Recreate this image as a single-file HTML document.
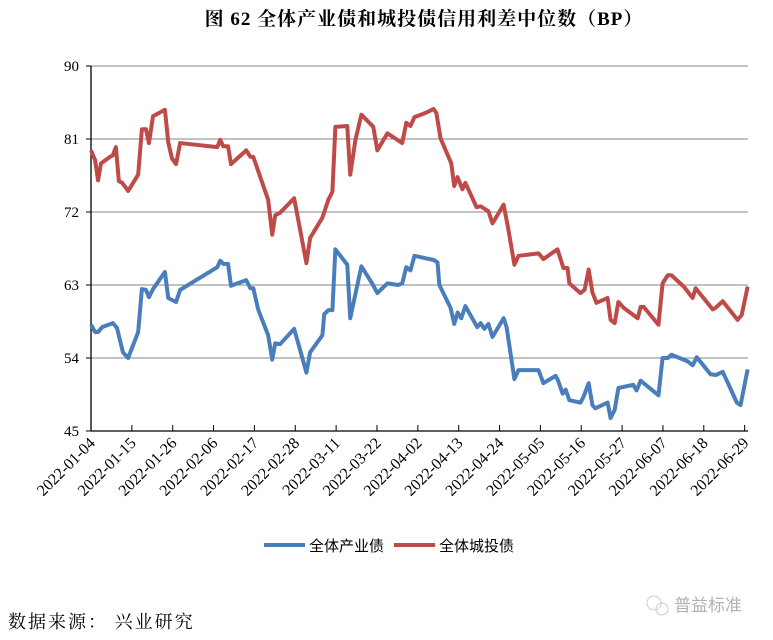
<!DOCTYPE html>
<html><head><meta charset="utf-8"><style>
body{margin:0;background:#fff;width:773px;height:640px;overflow:hidden;font-family:"Liberation Serif","Noto Serif CJK SC",serif}
svg{display:block}
</style></head><body>
<svg width="773" height="640" xmlns="http://www.w3.org/2000/svg">
<text x="424" y="25" text-anchor="middle" font-size="19" font-weight="bold" letter-spacing="1" font-family="Liberation Serif, Noto Serif CJK SC, serif">图 62  全体产业债和城投债信用利差中位数（BP）</text>
<g id="grid"></g><g id="axes"></g><g id="series"></g>
<g>
<line x1="264" y1="545" x2="305" y2="545" stroke="#4a7ebb" stroke-width="4"/>
<text x="309" y="551" font-size="15" font-family="Liberation Sans, Noto Sans CJK SC, sans-serif">全体产业债</text>
<line x1="394" y1="545" x2="435" y2="545" stroke="#be4b48" stroke-width="4"/>
<text x="439" y="551" font-size="15" font-family="Liberation Sans, Noto Sans CJK SC, sans-serif">全体城投债</text>
</g>
<text x="8" y="628" font-size="18" letter-spacing="2" font-family="Noto Serif CJK SC, serif">数据来源：  兴业研究</text>
<g opacity="0.5">
<circle cx="654" cy="603" r="7" fill="none" stroke="#999"/><circle cx="662" cy="609" r="6" fill="none" stroke="#999"/>
<text x="674" y="611" font-size="17" fill="#666" font-family="Noto Sans CJK SC, sans-serif">普益标准</text>
</g>
</svg>
<script>
const yTicks=[45,54,63,72,81,90];
const xTickLabels=["2022-01-04","2022-01-15","2022-01-26","2022-02-06","2022-02-17","2022-02-28","2022-03-11","2022-03-22","2022-04-02","2022-04-13","2022-04-24","2022-05-05","2022-05-16","2022-05-27","2022-06-07","2022-06-18","2022-06-29"];
const xTickDays=[0,11,22,33,44,55,66,77,88,99,110,121,132,143,154,165,176];
const redDays=[0,1.1,1.9,2.7,5.1,5.9,6.7,7.5,8.4,10,12.7,13.7,14.8,15.6,16.7,19.9,20.8,21.8,22.9,24,34,34.8,35.6,36.9,37.7,41.8,42.9,43.7,47.7,48.8,49.6,50.9,54.7,58,59,62.3,63.9,65,65.8,69,69.8,71.2,72.8,76,77.1,79.8,83.8,84.9,86,87.1,90,92.2,93,94.1,97,97.8,98.7,100,100.8,103.8,104.9,107,108.1,111.1,112.4,114,115.1,120.5,121.8,125.6,127.2,128.3,128.8,131.8,132.9,134,135,136.1,139.1,139.9,141,142,143.4,147.2,148,148.8,152.8,153.9,155.3,156.3,159.6,162,162.8,167.4,168.2,170.1,174.1,175.2,176.8];
const redVals=[79.6,78.4,75.9,78.0,78.8,79.0,80.0,75.8,75.6,74.6,76.6,82.2,82.2,80.5,83.8,84.6,80.6,78.6,77.9,80.5,80.0,80.9,80.1,80.1,77.9,79.6,78.8,78.8,73.5,69.2,71.6,71.9,73.7,65.7,68.8,71.3,73.5,74.5,82.5,82.6,76.6,80.9,84.0,82.5,79.6,81.7,80.5,83.0,82.6,83.7,84.2,84.7,84.2,81.1,78.0,75.2,76.3,74.8,75.6,72.6,72.7,72.1,70.6,72.9,69.8,65.5,66.6,66.9,66.2,67.4,65.1,65.1,63.2,62.0,62.4,64.9,62.1,60.8,61.4,58.7,58.3,60.9,60.2,58.9,60.3,60.3,58.1,63.2,64.2,64.2,62.8,61.4,62.6,60.0,60.2,61.0,58.7,59.3,62.8];
const blueDays=[0,1.1,1.9,3,5.9,7,8.6,10,12.7,13.7,14.8,15.6,16.7,19.9,20.8,22.9,24,34,34.8,35.6,36.9,37.7,41.8,42.9,43.7,45,47.7,48.8,49.6,50.9,54.7,58,59,62.3,62.8,63.9,65,65.8,69,69.8,72.8,75.7,77.1,79.8,82.7,83.8,84.9,86,87.1,90,92.2,93.3,93.8,96.8,97.8,98.7,99.7,100.8,104,104.9,105.9,107,108.1,111.1,111.9,114,115.1,120.5,121.8,125.1,125.6,127,127.8,128.8,131.8,132.6,134,135,135.8,139.1,139.9,141,142,146,146.9,148,152.8,153.9,155.3,156.3,160.6,162,163.1,166.8,168.2,170.1,173.9,174.9,176.8];
const blueVals=[58.1,57.2,57.2,57.8,58.3,57.7,54.7,54.0,57.2,62.5,62.4,61.5,62.5,64.6,61.4,60.9,62.4,65.2,66.0,65.6,65.6,62.9,63.6,62.6,62.6,60.0,56.8,53.8,55.8,55.7,57.6,52.2,54.7,56.8,59.4,59.9,59.9,67.4,65.5,58.9,65.3,63.2,62.0,63.2,63.0,63.2,65.2,64.8,66.6,66.3,66.1,65.8,63.0,60.2,58.2,59.6,58.9,60.4,57.8,58.3,57.6,58.2,56.6,58.9,57.8,51.4,52.5,52.5,50.9,51.8,51.4,49.6,50.1,48.8,48.5,49.2,50.9,48.2,47.8,48.5,46.6,47.6,50.3,50.7,50.0,51.2,49.4,54.0,54.0,54.4,53.6,53.1,54.1,52.0,51.9,52.3,48.5,48.2,52.6];
const L=91,R=748,T=66,B=431,dMax=176.9,yMin=45,yMax=90;
const xs=d=>L+d*(R-L)/dMax;
const ys=v=>B-(v-yMin)*(B-T)/(yMax-yMin);
const NS="http://www.w3.org/2000/svg";
function mk(tag,attrs,parent){const e=document.createElementNS(NS,tag);for(const k in attrs)e.setAttribute(k,attrs[k]);parent.appendChild(e);return e;}
const grid=document.getElementById('grid'),axes=document.getElementById('axes'),ser=document.getElementById('series');
yTicks.forEach(v=>{
  if(v>yMin){const g=mk('line',{x1:L,x2:R,y1:ys(v),y2:ys(v),stroke:'#868686','stroke-width':1},grid);
  
  }
  const t=mk('text',{x:79,y:ys(v)+5,'text-anchor':'end','font-size':15},axes);t.textContent=v;
  
  
  const tk=mk('line',{x1:L-5,x2:L,y1:ys(v),y2:ys(v),stroke:'#000'},axes);
  
  
});
const ya=mk('line',{x1:L,x2:L,y1:T,y2:B,stroke:'#000','stroke-width':1.3},axes);


const xa=mk('line',{x1:L,x2:R,y1:B,y2:B,stroke:'#000','stroke-width':1.3},axes);


xTickDays.forEach((d,i)=>{
  const x=xs(d);
  const tk=mk('line',{x1:x,x2:x,y1:B-6,y2:B,stroke:'#000'},axes);
  
  
  const t=mk('text',{x:0,y:0,'text-anchor':'end','font-size':16,transform:`translate(${x+5},${B+13}) rotate(-45)`},axes);
  t.textContent=xTickLabels[i];
  
  
});
function line(days,vals,color,name){
  const p=mk('polyline',{points:days.map((d,i)=>xs(d)+','+ys(vals[i])).join(' '),fill:'none',stroke:color,'stroke-width':4,'stroke-linejoin':'round'},ser);
  
  
}
line(redDays,redVals,'#be4b48','series-lgfv-line');
line(blueDays,blueVals,'#4a7ebb','series-industrial-line');
</script>
</body></html>
